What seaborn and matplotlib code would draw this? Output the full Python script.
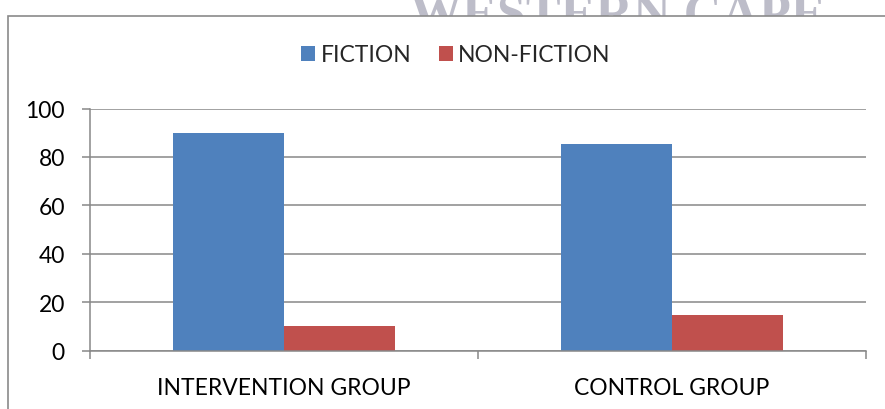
import matplotlib
matplotlib.use("Agg")
import matplotlib.pyplot as plt
import seaborn as sns
import pandas as pd
from matplotlib.patches import Rectangle, Patch

# ---- data ----
groups = ["INTERVENTION GROUP", "CONTROL GROUP"]
series = ["FICTION", "NON-FICTION"]
fiction = [89.7, 85.3]
non_fiction = [10.3, 14.7]
yticks = [0, 20, 40, 60, 80, 100]

colors = ["#4F81BD", "#C0504D"]
grid_c = "#888888"

sns.set_theme(style="white")
plt.rcParams["font.family"] = ["Lato", "DejaVu Sans"]

df = pd.DataFrame({
    "group": groups * 2,
    "type": [series[0]] * 2 + [series[1]] * 2,
    "value": fiction + non_fiction,
})

W, H = 885, 410
fig = plt.figure(figsize=(W / 100, H / 100), dpi=100)
fig.patch.set_facecolor("white")

# watermark (partly hidden by chart frame)
fig.text(410 / W, 1 - 30 / H, "WESTERN CAPE", fontsize=37.5, family="Liberation Serif",
         fontweight="bold", color="#bdbdc9", ha="left", va="baseline", zorder=0)

# chart frame
frame = Rectangle((7.5 / W, -0.2), 2.0, 1.2 - 17 / H, transform=fig.transFigure,
                  facecolor="white", edgecolor="#8a8a8a", linewidth=1.2, zorder=0.5)
fig.patches.append(frame)

ax = fig.add_axes([90 / W, 58.5 / H, 776 / W, 242 / H])
ax.set_zorder(2)
ax.patch.set_alpha(0)

sns.barplot(data=df, x="group", y="value", hue="type", palette=colors,
            width=0.572, saturation=1, linewidth=0, ax=ax, legend=False)

ax.set_ylim(0, 100)
ax.set_xlim(-0.5, 1.5)
ax.set_yticks(yticks)
ax.set_xlabel("")
ax.set_ylabel("")

for s in ["top", "right"]:
    ax.spines[s].set_visible(False)
for s in ["left", "bottom"]:
    ax.spines[s].set_color(grid_c)
    ax.spines[s].set_linewidth(1.1)

ax.yaxis.grid(True, color=grid_c, linewidth=1.1)
ax.set_axisbelow(True)

ax.tick_params(axis="y", direction="out", length=6, width=1.1, color=grid_c,
               pad=12, labelsize=16.5, labelcolor="black", left=True)
ax.set_xticks([-0.5, 0.5, 1.5], minor=True)
ax.tick_params(axis="x", which="minor", direction="out", length=6, width=1.1, color=grid_c, bottom=True)
ax.tick_params(axis="x", which="major", length=0, pad=19, labelsize=16.5, labelcolor="black")

handles = [Patch(facecolor=c, edgecolor="none") for c in colors]
fig.legend(handles, series, loc="center", bbox_to_anchor=(456 / W, 1 - 56 / H), ncol=2,
           frameon=False, fontsize=16.5, handlelength=0.6, handleheight=0.6,
           handletextpad=0.25, columnspacing=1.2)

fig.savefig("out.png", dpi=100, facecolor="white")
